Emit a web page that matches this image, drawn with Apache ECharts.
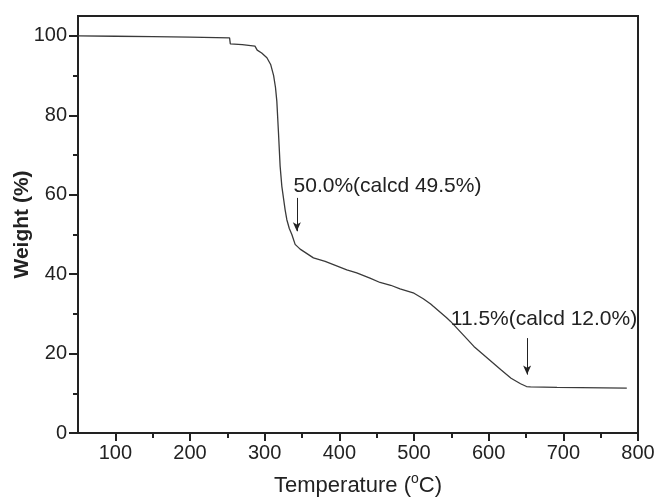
<!DOCTYPE html>
<html>
<head>
<meta charset="utf-8">
<script src="https://cdn.jsdelivr.net/npm/echarts@6/dist/echarts.min.js"></script>
<style>
  html, body { margin: 0; padding: 0; background: #fff; }
  #chart { width: 654px; height: 499px; }
</style>
</head>
<body>
<div id="chart"></div>
<script>
// TGA curve
const temperature = [50, 100, 150, 200, 253, 254, 270, 287, 290, 296, 303, 308, 312, 314.5, 316.3, 318.5,
  320.7, 323, 327.4, 329.7, 333, 336.4, 340.8, 347.5, 365.3, 381, 410, 423.3, 441, 454.5, 468.8,
  481.3, 500, 512.4, 522.3, 525.8, 543.7, 549, 565.9, 580.2, 616, 630, 642.7, 650.7, 656, 691.6, 785]
const weight = [100, 99.9, 99.8, 99.7, 99.5, 98.0, 97.8, 97.4, 96.4, 95.7, 94.5, 92.8, 90.0, 87, 83.5, 75.6,
  67.2, 62.1, 56.2, 53.7, 51.5, 50.0, 47.5, 46.3, 44.1, 43.2, 41.1, 40.3, 39.0, 37.9, 37.2,
  36.3, 35.2, 33.8, 32.5, 31.9, 29.0, 28.1, 24.7, 21.8, 16.0, 13.8, 12.4, 11.7, 11.6, 11.5, 11.3]

const xMajor = [100, 200, 300, 400, 500, 600, 700, 800]
const xMinor = [150, 250, 350, 450, 550, 650, 750]
const yMajor = [0, 20, 40, 60, 80, 100]
const yMinor = [10, 30, 50, 70, 90]

// annotation texts and their anchors (data coords)
const noteTexts = ['50.0%(calcd 49.5%)', '11.5%(calcd 12.0%)']
const noteAt = [[464.5, 62.1], [674.1, 28.7]]
const arrowX = [343.1, 651.5]
const arrowFrom = [59.2, 23.9]
const arrowTo = [50.8, 14.7]

const ink = '#222'
const font = 'Liberation Sans, Arial, Helvetica, sans-serif'

const chart = echarts.init(document.getElementById('chart'))

const xBase = {
  type: 'value',
  min: 50,
  max: 800,
  splitLine: { show: false }
}
const yBase = {
  type: 'value',
  min: 0,
  max: 105,
  position: 'left',
  splitLine: { show: false }
}

chart.setOption({
  animation: false,
  grid: {
    left: 78, right: 16, top: 16, bottom: 66,
    outerBoundsMode: 'none',
    containLabel: false,
    show: true,
    borderColor: ink,
    borderWidth: 2
  },
  xAxis: [
    Object.assign({}, xBase, {
      name: '{t|Temperature (}{sup|o}{t|C)}',
      nameLocation: 'middle',
      nameGap: 39,
      nameMoveOverlap: false,
      nameTextStyle: {
        color: ink, fontSize: 22, fontFamily: font,
        rich: {
          t: { fontSize: 22, lineHeight: 28, fontFamily: font, color: ink },
          sup: { fontSize: 14, lineHeight: 12, verticalAlign: 'top', fontFamily: font, color: ink }
        }
      },
      axisLine: { lineStyle: { color: ink, width: 2 } },
      axisTick: { customValues: xMajor, length: 8, lineStyle: { color: ink, width: 2 } },
      axisLabel: { customValues: xMajor, margin: 10, color: ink, fontSize: 20, fontFamily: font }
    }),
    Object.assign({}, xBase, {
      position: 'bottom',
      axisLine: { show: false },
      axisTick: { customValues: xMinor, length: 5, lineStyle: { color: ink, width: 2 } },
      axisLabel: { show: false }
    })
  ],
  yAxis: [
    Object.assign({}, yBase, {
      name: 'Weight (%)',
      nameLocation: 'middle',
      nameGap: 45,
      nameMoveOverlap: false,
      nameTextStyle: { color: ink, fontSize: 21, fontWeight: 'bold', fontFamily: font },
      axisLine: { lineStyle: { color: ink, width: 2 } },
      axisTick: { customValues: yMajor, length: 9, lineStyle: { color: ink, width: 2 } },
      axisLabel: { customValues: yMajor, margin: 11, color: ink, fontSize: 20, fontFamily: font }
    }),
    Object.assign({}, yBase, {
      axisLine: { show: false },
      axisTick: { customValues: yMinor, length: 5, lineStyle: { color: ink, width: 2 } },
      axisLabel: { show: false }
    })
  ],
  series: [{
    type: 'line',
    data: temperature.map((t, i) => [t, weight[i]]),
    showSymbol: false,
    lineStyle: { color: '#3a3a3a', width: 1.3 },
    silent: true,
    markLine: {
      silent: true,
      symbol: ['none', 'arrow'],
      symbolSize: [6, 9],
      label: { show: false },
      lineStyle: { color: ink, width: 1, type: 'solid' },
      data: arrowX.map((x, i) => [{ coord: [x, arrowFrom[i]] }, { coord: [x, arrowTo[i]] }])
    },
    markPoint: {
      silent: true,
      symbol: 'rect',
      symbolSize: 1,
      itemStyle: { color: 'rgba(0,0,0,0)' },
      label: {
        show: true,
        position: 'inside',
        color: ink,
        fontSize: 21,
        fontFamily: font,
        formatter: p => p.name
      },
      data: noteTexts.map((t, i) => ({ name: t, coord: noteAt[i] }))
    }
  }]
})
</script>
</body>
</html>
